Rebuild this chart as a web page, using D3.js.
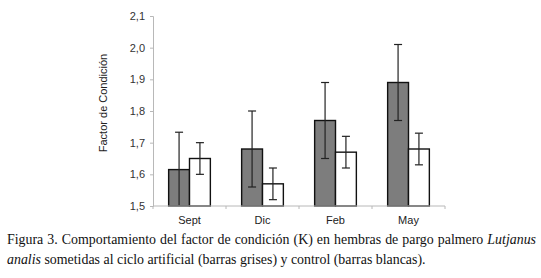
<!DOCTYPE html>
<html>
<head>
<meta charset="utf-8">
<script src="https://cdn.jsdelivr.net/npm/d3@7"></script>
<style>
  body { margin: 0; background: #fff; }
  #wrap { position: relative; width: 541px; height: 278px; overflow: hidden; }
  .cap { position: absolute; left: 7px; width: 529px; font-family: "Liberation Serif", "Times New Roman", serif; font-size: 13.9px; color: #111; white-space: nowrap; }
  .cap1 { text-align: justify; text-align-last: justify; white-space: normal; }
</style>
</head>
<body>
<div id="wrap">
  <div id="chart"></div>
  <div class="cap cap1" style="top:232px;">Figura 3. Comportamiento del factor de condición (K) en hembras de pargo palmero <i>Lutjanus</i></div>
  <div class="cap" style="top:252px;"><i>analis</i> sometidas al ciclo artificial (barras grises) y control (barras blancas).</div>
</div>
<script>
// data
const months = ["Sept", "Dic", "Feb", "May"];
const grayVals = [1.615, 1.68, 1.77, 1.89];   // ciclo artificial
const grayErr = [0.118, 0.12, 0.12, 0.12];
const whiteVals = [1.65, 1.57, 1.67, 1.68];   // control
const whiteErr = [0.05, 0.05, 0.05, 0.05];
const yTicks = [1.5, 1.6, 1.7, 1.8, 1.9, 2.0, 2.1];
const yTickLabels = ["1,5", "1,6", "1,7", "1,8", "1,9", "2,0", "2,1"];

const width = 541, height = 278;
const margin = {top: 16, right: 96, bottom: 72, left: 153};

const svg = d3.select('#chart')
    .append('svg')
    .attr('width', width)
    .attr('height', height)
    .style('position', 'absolute')
    .style('left', 0).style('top', 0);

const x = d3.scaleBand()
    .domain(months)
    .range([margin.left, width - margin.right])
    .padding(0);

const xSub = d3.scaleBand()
    .domain(["gris", "blanco"])
    .range([0, x.bandwidth()])
    .paddingInner(0)
    .paddingOuter(0.75);

const y = d3.scaleLinear()
    .domain([1.5, 2.1])
    .range([height - margin.bottom, margin.top]);

// y axis
const yAxis = g => g
    .attr('transform', `translate(${margin.left}, 0)`)
    .call(d3.axisLeft(y).tickValues(yTicks).tickFormat((d, i) => yTickLabels[i]).tickSize(3).tickPadding(5))
    .call(g => g.selectAll('.domain, line').attr('stroke', '#b8b8b8'))
    .call(g => g.selectAll('text').attr('fill', '#333').style('font-family', 'Liberation Sans, Arial, sans-serif').style('font-size', '11px'));

// x axis: ticks at band edges
const xAxis = g => g
    .attr('transform', `translate(0, ${y(1.5)})`)
    .call(g => g.append('line')
        .attr('x1', margin.left).attr('x2', width - margin.right)
        .attr('stroke', '#b8b8b8'))
    .call(g => g.selectAll('.tk')
        .data(months.map(m => x(m)).concat([x(months[months.length - 1]) + x.bandwidth()]))
        .join('line')
        .attr('class', 'tk')
        .attr('x1', d => d).attr('x2', d => d)
        .attr('y1', 0).attr('y2', 3)
        .attr('stroke', '#b8b8b8'))
    .call(g => g.selectAll('.lbl')
        .data(months)
        .join('text')
        .attr('class', 'lbl')
        .attr('x', d => x(d) + x.bandwidth() / 2)
        .attr('y', 18)
        .attr('text-anchor', 'middle')
        .attr('fill', '#222')
        .style('font-family', 'Liberation Sans, Arial, sans-serif')
        .style('font-size', '11px')
        .text(d => d));

svg.append('g').call(yAxis);

// y label
svg.append('text')
    .attr('transform', `translate(107, ${(y(1.5) + y(2.1)) / 2 - 8}) rotate(-90)`)
    .attr('text-anchor', 'middle')
    .attr('fill', '#222')
    .style('font-family', 'Liberation Sans, Arial, sans-serif')
    .style('font-size', '11px')
    .text('Factor de Condición');

const rows = months.map((m, i) => [
    {m, key: "gris", v: grayVals[i], e: grayErr[i], fill: '#7d7d7d'},
    {m, key: "blanco", v: whiteVals[i], e: whiteErr[i], fill: '#ffffff'}
]).flat();

const bar = svg.selectAll('g.bar')
    .data(rows)
    .join('g')
    .attr('class', 'bar')
    .attr('transform', d => `translate(${x(d.m) + xSub(d.key)}, 0)`);

bar.append('rect')
    .attr('x', 0)
    .attr('width', xSub.bandwidth())
    .attr('y', d => y(d.v))
    .attr('height', d => y(1.5) - y(d.v))
    .attr('fill', d => d.fill)
    .attr('stroke', '#111')
    .attr('stroke-width', 1.4);

// error bars
const cx = xSub.bandwidth() / 2, cap = 4;
bar.append('line')
    .attr('x1', cx).attr('x2', cx)
    .attr('y1', d => y(Math.max(1.5, d.v - d.e)))
    .attr('y2', d => y(d.v + d.e))
    .attr('stroke', '#222').attr('stroke-width', 1.2);
bar.append('line')
    .attr('x1', cx - cap).attr('x2', cx + cap)
    .attr('y1', d => y(d.v + d.e)).attr('y2', d => y(d.v + d.e))
    .attr('stroke', '#222').attr('stroke-width', 1.2);
bar.filter(d => d.v - d.e > 1.5).append('line')
    .attr('x1', cx - cap).attr('x2', cx + cap)
    .attr('y1', d => y(d.v - d.e)).attr('y2', d => y(d.v - d.e))
    .attr('stroke', '#222').attr('stroke-width', 1.2);

svg.append('g').call(xAxis);
</script>
</body>
</html>
